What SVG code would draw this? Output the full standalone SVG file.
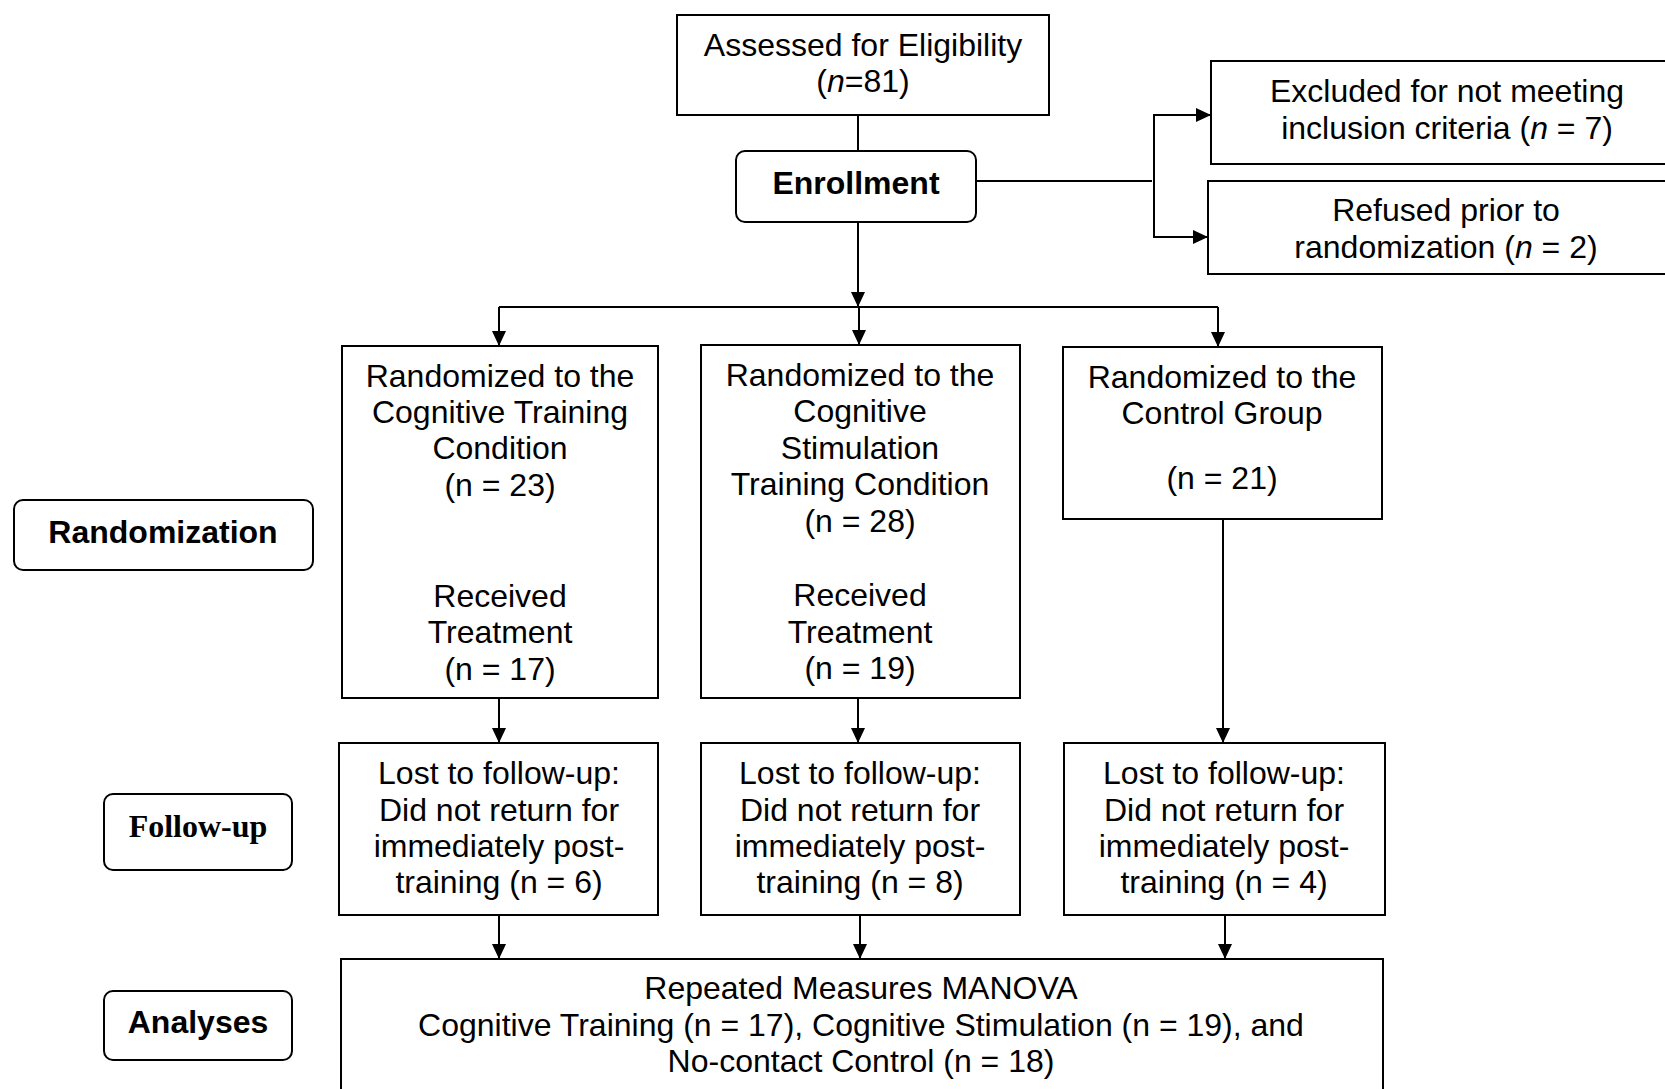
<svg xmlns="http://www.w3.org/2000/svg" width="1665" height="1089" viewBox="0 0 1665 1089">
<style>
.box{fill:#fff;stroke:#000;stroke-width:2}
.t{font-family:"Liberation Sans",Arial,sans-serif;font-size:32px;text-anchor:middle;fill:#000}
.b{font-weight:bold}
.s{font-family:"Liberation Serif","Times New Roman",serif;font-weight:bold}
.c{fill:none;stroke:#000;stroke-width:2}
</style>
<defs>
<marker id="ah" markerUnits="userSpaceOnUse" markerWidth="15" markerHeight="14" refX="15" refY="7" orient="auto">
<path d="M0,0 L15,7 L0,14 z" fill="#000"/>
</marker>
</defs>
<rect width="1665" height="1089" fill="#fff"/>
<g id="connectors">
<path class="c" d="M858,115 V151"/>
<path class="c" d="M858,222 V307" marker-end="url(#ah)"/>
<path class="c" d="M499,307 H1218"/>
<path class="c" d="M499,307 V346" marker-end="url(#ah)"/>
<path class="c" d="M859,307 V345" marker-end="url(#ah)"/>
<path class="c" d="M1218,307 V347" marker-end="url(#ah)"/>
<path class="c" d="M976,181 H1152"/>
<path class="c" d="M1154,115 V237"/>
<path class="c" d="M1153,115 H1211" marker-end="url(#ah)"/>
<path class="c" d="M1153,237 H1208" marker-end="url(#ah)"/>
<path class="c" d="M499,698 V743" marker-end="url(#ah)"/>
<path class="c" d="M858,698 V743" marker-end="url(#ah)"/>
<path class="c" d="M1223,519 V743" marker-end="url(#ah)"/>
<path class="c" d="M499,915 V959" marker-end="url(#ah)"/>
<path class="c" d="M860,915 V959" marker-end="url(#ah)"/>
<path class="c" d="M1225,915 V959" marker-end="url(#ah)"/>
</g>
<g id="assessed">
<rect class="box" x="677" y="15" width="372" height="100"/>
<text class="t" x="863" y="56">Assessed for Eligibility</text>
<text class="t" x="863" y="92">(<tspan font-style="italic">n</tspan>=81)</text>
</g>
<g id="enrollment">
<rect class="box" x="736" y="151" width="240" height="71" rx="9"/>
<text class="t b" x="856" y="194">Enrollment</text>
</g>
<g id="excluded">
<rect class="box" x="1211" y="61" width="470" height="103"/>
<text class="t" x="1447" y="102">Excluded for not meeting</text>
<text class="t" x="1447" y="139">inclusion criteria (<tspan font-style="italic">n</tspan> = 7)</text>
</g>
<g id="refused">
<rect class="box" x="1208" y="181" width="470" height="93"/>
<text class="t" x="1446" y="221">Refused prior to</text>
<text class="t" x="1446" y="258">randomization (<tspan font-style="italic">n</tspan> = 2)</text>
</g>
<g id="rand-training">
<rect class="box" x="342" y="346" width="316" height="352"/>
<text class="t" x="500" y="387">Randomized to the</text>
<text class="t" x="500" y="423">Cognitive Training</text>
<text class="t" x="500" y="459">Condition</text>
<text class="t" x="500" y="496">(n = 23)</text>
<text class="t" x="500" y="607">Received</text>
<text class="t" x="500" y="643">Treatment</text>
<text class="t" x="500" y="680">(n = 17)</text>
</g>
<g id="rand-stimulation">
<rect class="box" x="701" y="345" width="319" height="353"/>
<text class="t" x="860" y="386">Randomized to the</text>
<text class="t" x="860" y="422">Cognitive</text>
<text class="t" x="860" y="459">Stimulation</text>
<text class="t" x="860" y="495">Training Condition</text>
<text class="t" x="860" y="532">(n = 28)</text>
<text class="t" x="860" y="606">Received</text>
<text class="t" x="860" y="643">Treatment</text>
<text class="t" x="860" y="679">(n = 19)</text>
</g>
<g id="rand-control">
<rect class="box" x="1063" y="347" width="319" height="172"/>
<text class="t" x="1222" y="388">Randomized to the</text>
<text class="t" x="1222" y="424">Control Group</text>
<text class="t" x="1222" y="489">(n = 21)</text>
</g>
<g id="label-randomization">
<rect class="box" x="14" y="500" width="299" height="70" rx="9"/>
<text class="t b" x="163" y="543">Randomization</text>
</g>
<g id="label-followup">
<rect class="box" x="104" y="794" width="188" height="76" rx="9"/>
<text class="t s" x="198" y="837">Follow-up</text>
</g>
<g id="label-analyses">
<rect class="box" x="104" y="991" width="188" height="69" rx="9"/>
<text class="t b" x="198" y="1033">Analyses</text>
</g>
<g id="lost-training">
<rect class="box" x="339" y="743" width="319" height="172"/>
<text class="t" x="499" y="784">Lost to follow-up:</text>
<text class="t" x="499" y="821">Did not return for</text>
<text class="t" x="499" y="857">immediately post-</text>
<text class="t" x="499" y="893">training (n = 6)</text>
</g>
<g id="lost-stimulation">
<rect class="box" x="701" y="743" width="319" height="172"/>
<text class="t" x="860" y="784">Lost to follow-up:</text>
<text class="t" x="860" y="821">Did not return for</text>
<text class="t" x="860" y="857">immediately post-</text>
<text class="t" x="860" y="893">training (n = 8)</text>
</g>
<g id="lost-control">
<rect class="box" x="1064" y="743" width="321" height="172"/>
<text class="t" x="1224" y="784">Lost to follow-up:</text>
<text class="t" x="1224" y="821">Did not return for</text>
<text class="t" x="1224" y="857">immediately post-</text>
<text class="t" x="1224" y="893">training (n = 4)</text>
</g>
<g id="manova">
<rect class="box" x="341" y="959" width="1042" height="140"/>
<text class="t" x="861" y="999">Repeated Measures MANOVA</text>
<text class="t" x="861" y="1036">Cognitive Training (n = 17), Cognitive Stimulation (n = 19), and</text>
<text class="t" x="861" y="1072">No-contact Control (n = 18)</text>
</g>
</svg>
